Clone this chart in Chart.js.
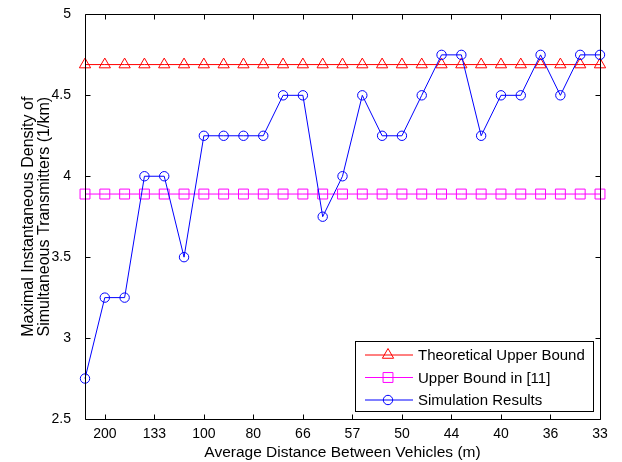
<!DOCTYPE html>
<html><head><meta charset="utf-8">
<script src="https://cdn.jsdelivr.net/npm/chart.js@4.4.0/dist/chart.umd.min.js"></script>
<style>html,body{margin:0;padding:0;background:#fff;} #wrap{width:622px;height:462px;}</style>
</head><body><div id="wrap"><canvas id="c" width="622" height="462"></canvas></div>
<script>
// x values: vehicle density (vehicles/km); tick labels show average distance (m)
const densities = [4,5,6,7,8,9,10,11,12,13,14,15,16,17,18,19,20,21,22,23,24,25,26,27,28,29,30];
const theoreticalBound = [4.69,4.69,4.69,4.69,4.69,4.69,4.69,4.69,4.69,4.69,4.69,4.69,4.69,4.69,4.69,4.69,4.69,4.69,4.69,4.69,4.69,4.69,4.69,4.69,4.69,4.69,4.69];
const upperBound11 = [3.89,3.89,3.89,3.89,3.89,3.89,3.89,3.89,3.89,3.89,3.89,3.89,3.89,3.89,3.89,3.89,3.89,3.89,3.89,3.89,3.89,3.89,3.89,3.89,3.89,3.89,3.89];
const simulation = [2.75,3.25,3.25,4.0,4.0,3.5,4.25,4.25,4.25,4.25,4.5,4.5,3.75,4.0,4.5,4.25,4.25,4.5,4.75,4.75,4.25,4.5,4.5,4.75,4.5,4.75,4.75];
const xTickValues = [5,7.5,10,12.5,15,17.5,20,22.5,25,27.5,30];
const xTickLabels = ['200','133','100','80','66','57','50','44','40','36','33'];
const yTickValues = [2.5,3,3.5,4,4.5,5];
const yTickLabels = ['2.5','3','3.5','4','4.5','5'];
const seriesNames = ['Theoretical Upper Bound','Upper Bound in [11]','Simulation Results'];

const FONT = 'Liberation Sans, Arial, Helvetica, sans-serif';
const pts = (arr) => densities.map((d,i)=>({x:d,y:arr[i]}));

const frame = {
  id:'matlabFrame',
  afterDatasetsDraw(chart){
    const {ctx, chartArea:a, scales:{x,y}} = chart;
    ctx.save();
    ctx.strokeStyle='#000'; ctx.lineWidth=1;
    const L=Math.round(a.left)+0.5, R=Math.round(a.right)+0.5, T=Math.round(a.top)+0.5, B=Math.round(a.bottom)+0.5;
    ctx.beginPath();
    ctx.rect(L,T,R-L,B-T);
    const tl=5;
    xTickValues.forEach(v=>{
      const px=Math.round(x.getPixelForValue(v))+0.5;
      ctx.moveTo(px,B); ctx.lineTo(px,B-tl);
      ctx.moveTo(px,T); ctx.lineTo(px,T+tl);
    });
    yTickValues.forEach(v=>{
      const py=Math.round(y.getPixelForValue(v))+0.5;
      ctx.moveTo(L,py); ctx.lineTo(L+tl,py);
      ctx.moveTo(R,py); ctx.lineTo(R-tl,py);
    });
    ctx.stroke();
    ctx.restore();
  },
  afterDraw(chart){
    const {ctx, chartArea:a} = chart;
    const bx=a.right-245, by=a.bottom-78, bw=238, bh=70;
    ctx.save();
    ctx.fillStyle='#fff';
    ctx.fillRect(bx,by,bw,bh);
    ctx.strokeStyle='#000'; ctx.lineWidth=1;
    ctx.strokeRect(Math.round(bx)+0.5,Math.round(by)+0.5,bw,bh);
    chart.data.datasets.forEach((ds,i)=>{
      const yy=by+14+i*22.5;
      ctx.strokeStyle=ds.borderColor; ctx.lineWidth=1;
      ctx.beginPath(); ctx.moveTo(bx+10,yy); ctx.lineTo(bx+58,yy); ctx.stroke();
      ctx.fillStyle='rgba(0,0,0,0)';
      Chart.helpers.drawPoint(ctx,{pointStyle:ds.pointStyle,radius:ds.pointRadius,borderWidth:1,rotation:0},bx+33,yy);
      ctx.fillStyle='#000';
      ctx.font='15px '+FONT;
      ctx.textBaseline='middle'; ctx.textAlign='left';
      ctx.fillText(ds.label,bx+63,yy+1);
    });
    ctx.restore();
  }
};

new Chart(document.getElementById('c'),{
  type:'line',
  data:{datasets:[
    {label:seriesNames[0],data:pts(theoreticalBound),borderColor:'#ff0000',backgroundColor:'rgba(0,0,0,0)',pointBorderColor:'#ff0000',pointBackgroundColor:'rgba(0,0,0,0)',pointStyle:'triangle',pointRadius:6.5,pointBorderWidth:1,borderWidth:1,clip:false,order:2,tension:0},
    {label:seriesNames[1],data:pts(upperBound11),borderColor:'#ff00ff',backgroundColor:'rgba(0,0,0,0)',pointBorderColor:'#ff00ff',pointBackgroundColor:'rgba(0,0,0,0)',pointStyle:'rect',pointRadius:7,pointBorderWidth:1,borderWidth:1,clip:false,order:1,tension:0},
    {label:seriesNames[2],data:pts(simulation),borderColor:'#0000ff',backgroundColor:'rgba(0,0,0,0)',pointBorderColor:'#0000ff',pointBackgroundColor:'rgba(0,0,0,0)',pointStyle:'circle',pointRadius:4.7,pointBorderWidth:1,borderWidth:1,clip:false,order:0,tension:0}
  ]},
  options:{
    responsive:false, animation:false, devicePixelRatio:1,
    layout:{padding:{left:0,right:22,top:13,bottom:0}},
    plugins:{legend:{display:false},tooltip:{enabled:false}},
    elements:{point:{hoverRadius:5}},
    scales:{
      x:{type:'linear',min:4,max:30,
        afterBuildTicks:(s)=>{s.ticks=xTickValues.map(v=>({value:v}));},
        afterFit:(s)=>{s.height=43;},
        ticks:{autoSkip:false,maxRotation:0,color:'#000',font:{family:FONT,size:14},padding:-1,
          callback:(v)=>xTickLabels[xTickValues.indexOf(v)]},
        grid:{display:false},border:{display:false},
        title:{display:true,text:'Average Distance Between Vehicles (m)',color:'#000',font:{family:FONT,size:15.5},padding:{top:0,bottom:0}}
      },
      y:{type:'linear',min:2.5,max:5,
        afterBuildTicks:(s)=>{s.ticks=yTickValues.map(v=>({value:v}));},
        afterFit:(s)=>{s.width=85;},
        ticks:{color:'#000',font:{family:FONT,size:14},padding:6,
          callback:(v)=>yTickLabels[yTickValues.indexOf(v)]},
        grid:{display:false},border:{display:false},
        title:{display:true,text:['Maximal Instantaneous Density of','Simultaneous Transmitters (1/km)'],color:'#000',font:{family:FONT,size:16,lineHeight:1.0},padding:{top:20.5,bottom:0}}
      }
    }
  },
  plugins:[frame]
});
</script></body></html>
